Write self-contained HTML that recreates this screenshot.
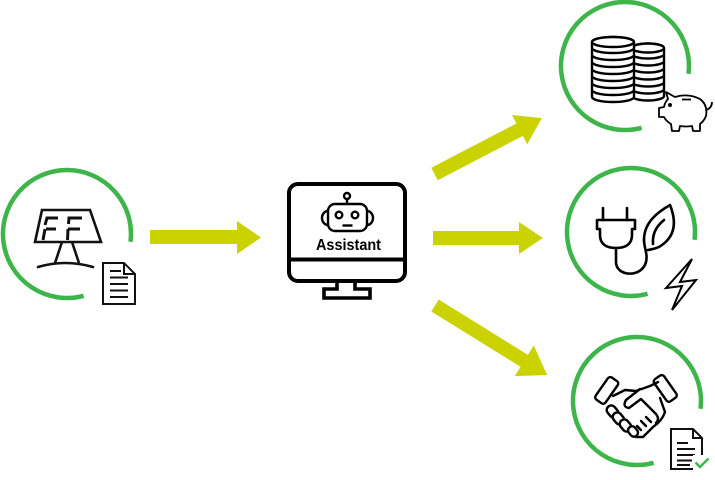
<!DOCTYPE html>
<html>
<head>
<meta charset="utf-8">
<style>
  html,body{margin:0;padding:0;background:#fff;}
  svg{display:block;}
</style>
</head>
<body>
<svg width="715" height="480" viewBox="0 0 715 480" xmlns="http://www.w3.org/2000/svg">
  <rect width="715" height="480" fill="#fff"/>

  <!-- Green arcs -->
  <g fill="none" stroke="#3db54a" stroke-width="4.5">
    <path d="M83.6,295.8 A64,64 0 1 1 130.5,241.8"/>
    <path d="M641.6,127.8 A64,64 0 1 1 688.5,73.8"/>
    <path d="M647.6,293.8 A64,64 0 1 1 694.5,239.8"/>
    <path d="M653.6,462.8 A64,64 0 1 1 700.5,408.8"/>
  </g>

  <!-- Arrows -->
  <g fill="#cad300">
    <polygon points="150,230 237,230 237,221 261,237.5 237,254 237,244 150,244"/>
    <polygon points="433,231 519,231 519,222 543,238 519,254 519,245 433,245"/>
    <g transform="translate(434.5,174) rotate(-27.5)">
      <polygon points="0,-7 96,-7 96,-16.5 121,0 96,16.5 96,7 0,7"/>
    </g>
    <g transform="translate(435,305.5) rotate(31.8)">
      <polygon points="0,-7 105,-7 105,-18 132,0 105,18 105,7 0,7"/>
    </g>
  </g>

  <!-- Solar panel -->
  <g fill="none" stroke="#111" stroke-width="2.6" stroke-linejoin="miter" stroke-linecap="butt">
    <polygon points="42,210 90,210 101,242 35,242"/>
    <g stroke-width="3">
      <path d="M58,218 H47 L45,225 M46,229 H56 M45,229 L43,240"/>
      <path d="M82,218 H69 L68.5,224 M68,229 H80 M68,229 L67.5,240"/>
    </g>
    <path d="M62,242 L55,263 M72,242 L79,263"/>
    <path d="M38,267 Q65,259 93,267" stroke-linecap="round"/>
  </g>
  <!-- Left document -->
  <g fill="#fff" stroke="#111" stroke-width="2">
    <path d="M103,263 H124 L135,274 V304 H103 Z"/>
    <path d="M124,263 V274 H135" fill="none"/>
    <path d="M110,271 H121 M110,277.5 H128 M110,284 H128 M110,290.5 H128 M110,297 H128" fill="none"/>
  </g>

  <!-- Monitor -->
  <g fill="none" stroke="#000" stroke-width="4">
    <rect x="289" y="184" width="116" height="97" rx="9"/>
    <line x1="289" y1="259.5" x2="405" y2="259.5"/>
    <path d="M337,282 V289 H324 V298 H370 V289 H355 V282" stroke-width="3.6"/>
  </g>
  <!-- Robot -->
  <g fill="none" stroke="#000" stroke-width="2.4">
    <circle cx="347" cy="196" r="3"/>
    <line x1="347" y1="199" x2="347" y2="204"/>
    <rect x="328" y="204" width="39" height="27" rx="7"/>
    <path d="M328,211 A6,7 0 0 0 328,225"/>
    <path d="M367,211 A6,7 0 0 1 367,225"/>
    <circle cx="339" cy="215" r="3.3"/>
    <circle cx="355" cy="215" r="3.3"/>
    <line x1="342.5" y1="225.5" x2="352.5" y2="225.5"/>
  </g>
  <text x="316" y="250" font-family="Liberation Sans, Arial, sans-serif" font-weight="bold" font-size="15.5" fill="#000" textLength="65" lengthAdjust="spacingAndGlyphs">Assistant</text>

  <!-- Coins -->
  <g stroke="#000" stroke-width="2.4" fill="#fff">
    <path d="M632,90 V96 A16,4.5 0 0 0 664,96 V90 A16,4.5 0 0 0 632,90 Z"/>
    <path d="M632,83 V89 A16,4.5 0 0 0 664,89 V83 A16,4.5 0 0 0 632,83 Z"/>
    <path d="M632,76 V82 A16,4.5 0 0 0 664,82 V76 A16,4.5 0 0 0 632,76 Z"/>
    <path d="M632,69 V75 A16,4.5 0 0 0 664,75 V69 A16,4.5 0 0 0 632,69 Z"/>
    <path d="M632,62 V68 A16,4.5 0 0 0 664,68 V62 A16,4.5 0 0 0 632,62 Z"/>
    <path d="M632,55 V61 A16,4.5 0 0 0 664,61 V55 A16,4.5 0 0 0 632,55 Z"/>
    <path d="M632,48 V54 A16,4.5 0 0 0 664,54 V48 A16,4.5 0 0 0 632,48 Z"/>
    <ellipse cx="648" cy="48" rx="16" ry="4.5"/>
    <path d="M592,91 V97 A21,5 0 0 0 634,97 V91 A21,5 0 0 0 592,91 Z"/>
    <path d="M592,84 V90 A21,5 0 0 0 634,90 V84 A21,5 0 0 0 592,84 Z"/>
    <path d="M592,77 V83 A21,5 0 0 0 634,83 V77 A21,5 0 0 0 592,77 Z"/>
    <path d="M592,70 V76 A21,5 0 0 0 634,76 V70 A21,5 0 0 0 592,70 Z"/>
    <path d="M592,63 V69 A21,5 0 0 0 634,69 V63 A21,5 0 0 0 592,63 Z"/>
    <path d="M592,56 V62 A21,5 0 0 0 634,62 V56 A21,5 0 0 0 592,56 Z"/>
    <path d="M592,49 V55 A21,5 0 0 0 634,55 V49 A21,5 0 0 0 592,49 Z"/>
    <path d="M592,42 V48 A21,5 0 0 0 634,48 V42 A21,5 0 0 0 592,42 Z"/>
    <ellipse cx="613" cy="42" rx="21" ry="5"/>
  </g>

  <!-- Piggy -->
  <g stroke="#000" stroke-width="1.8" fill="#fff" stroke-linejoin="round">
    <path d="M668,99 L666,92 L675,97 Q688,93 700,99 Q708,105 706,116 Q704,121 700,124 L700,131 L693,131 L692,126 Q686,127 680,126 L679,131 L672,131 L671,124 Q666,121 664,117 L659,117 L659,108 L664,107 Q665,102 668,99 Z"/>
    <path d="M706,110 Q712,108 712,102" fill="none"/>
    <path d="M682,99.5 H691" fill="none"/>
    <circle cx="670" cy="105" r="1.1" fill="#000"/>
  </g>

  <!-- Plug & leaf -->
  <g fill="none" stroke="#000" stroke-width="2.6" stroke-linejoin="round" stroke-linecap="round">
    <path d="M603,208 V220 M627,208 V220"/>
    <path d="M597,220 H635 V229 H632 V235 C632,244 626,248 616,248 C606,248 600,244 600,235 V229 H597 Z"/>
    <path d="M616,248 V262 C616,277 642,278 646,262 C648,254 644,248 644,240"/>
    <path d="M644,240 C644,222 658,212 670,205 C676,220 676,235 662,245 C657,249 652,249 648,250"/>
    <path d="M653,244 C652,232 658,225 664,220"/>
  </g>
  <!-- Lightning -->
  <polygon points="692,259 666,288 682,286 672,310 696,280 680,282" fill="none" stroke="#000" stroke-width="2" stroke-linejoin="miter"/>

  <!-- Handshake -->
  <g fill="#fff" stroke="#000" stroke-width="2.4" stroke-linejoin="round" stroke-linecap="round">
    <rect x="601" y="377" width="12" height="27" rx="3" transform="rotate(35 607 390)"/>
    <rect x="659" y="375" width="12" height="27" rx="3" transform="rotate(-35 665 388)"/>
    <path d="M613,396 L625,390 L636,391 L650,386 L658,382" fill="none"/>
    <path d="M660,398 L665,412 Q662,421 653,427 L643,437 L636,437" fill="none"/>
    <path d="M640,389 L626,400 Q622,407 629,408 L641,399 L656,414 Q660,419 656,423" fill="#fff"/>
    <rect x="608" y="405" width="9" height="13" rx="4.5" transform="rotate(-40 612.5 411.5)"/>
    <rect x="614" y="412" width="9" height="13" rx="4.5" transform="rotate(-40 618.5 418.5)"/>
    <rect x="621" y="419" width="9" height="13" rx="4.5" transform="rotate(-40 625.5 425.5)"/>
    <rect x="629" y="426" width="8" height="11" rx="4" transform="rotate(-40 633 431.5)"/>
    <path d="M646,417 L651,422 M641,421 L646,426 M637,426 L641,430" fill="none"/>
  </g>

  <!-- Document with check -->
  <g fill="#fff" stroke="#111" stroke-width="2">
    <path d="M671,429 H693 L702,438 V469 H671 Z"/>
    <path d="M693,429 V438 H702" fill="none"/>
    <path d="M677,443 H688 M677,449 H695 M677,455 H695 M677,460.5 H692 M677,465 H690" fill="none"/>
  </g>
  <rect x="693" y="455" width="16" height="16" fill="#fff"/>
  <path d="M695.5,462.5 L700,467 L708.5,458.5" fill="none" stroke="#3db54a" stroke-width="2.4"/>
</svg>
</body>
</html>
